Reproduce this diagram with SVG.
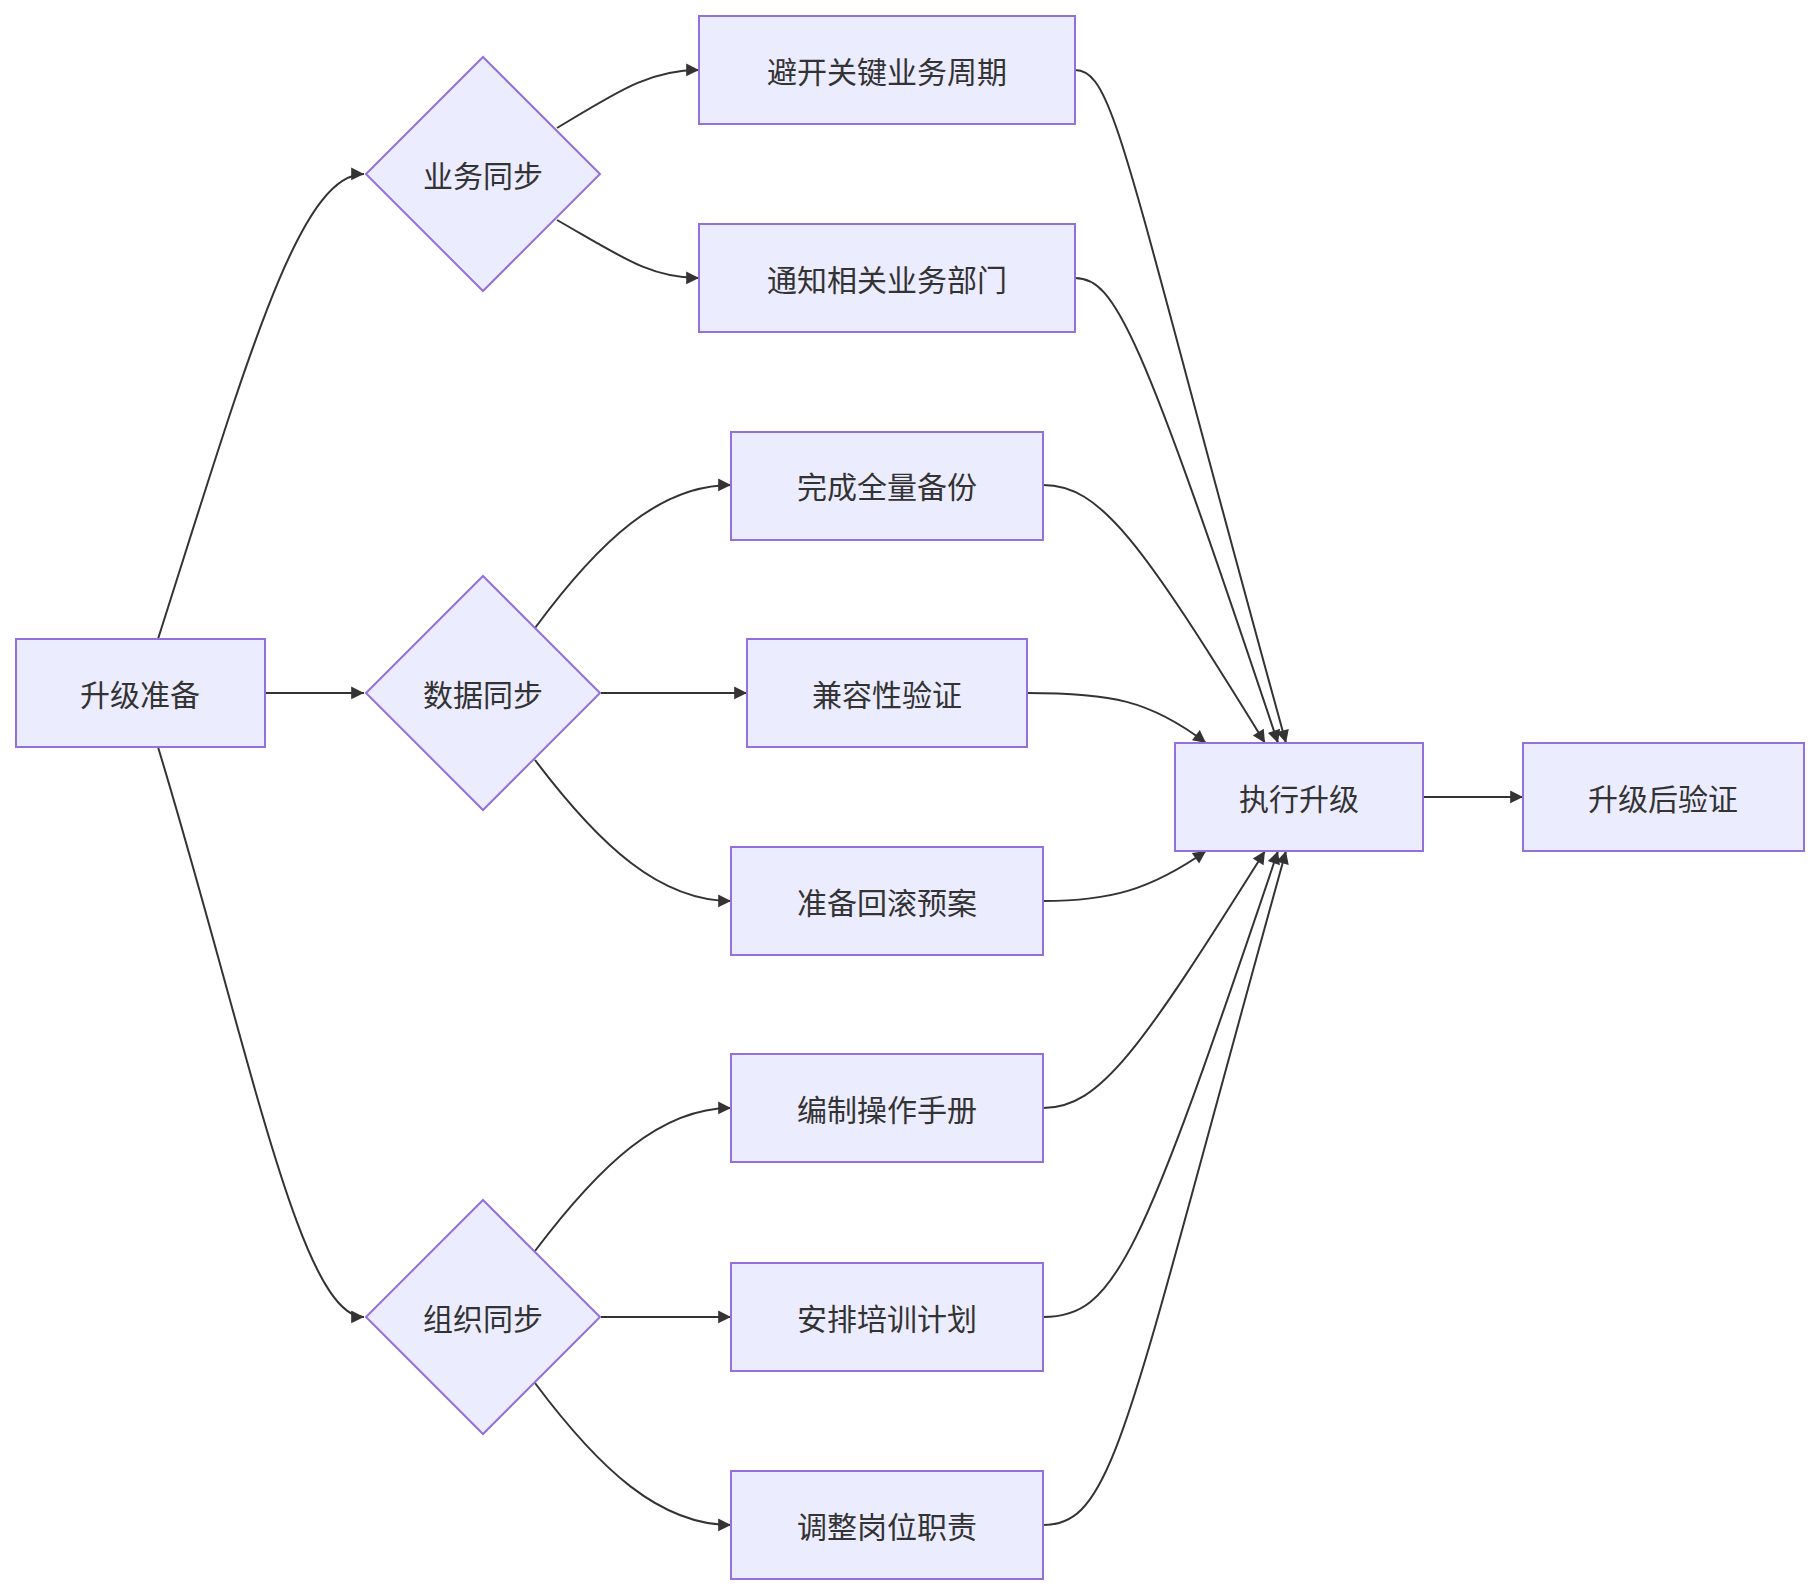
<svg xmlns="http://www.w3.org/2000/svg" width="1820" height="1596" viewBox="0 0 1820 1596">
<style>
.n{fill:#ECECFF;stroke:#9370DB;stroke-width:2}
.t{font-family:"Noto Sans CJK SC","Liberation Sans",sans-serif;font-size:30px;fill:#333;text-anchor:middle;dominant-baseline:central}
.e{fill:none;stroke:#333;stroke-width:2;marker-end:url(#a)}
</style>
<defs><marker id="a" viewBox="0 0 10 10" refX="10" refY="5" markerWidth="8" markerHeight="8" markerUnits="userSpaceOnUse" orient="auto" overflow="visible"><path d="M0,0 L10,5 L0,10 z" fill="#333" transform="scale(1.6) translate(-3.75,-1.9)"/></marker></defs>
<rect width="1820" height="1596" fill="#fff"/>
<g id="edges">
<path class="e" d="M158,639 C250,350 300,174 364,174"/>
<path class="e" d="M265,693 L364,693"/>
<path class="e" d="M158,747 C250,1050 300,1317 364,1317"/>
<path class="e" d="M557,128 C620,90 650,70 699,70"/>
<path class="e" d="M557,220 C620,256 650,278 699,278"/>
<path class="e" d="M535,628 C600,540 660,485 731,485"/>
<path class="e" d="M601,693 L747,693"/>
<path class="e" d="M535,760 C600,846 660,901 731,901"/>
<path class="e" d="M535,1251 C600,1165 660,1108 731,1108"/>
<path class="e" d="M601,1317 L731,1317"/>
<path class="e" d="M535,1383 C600,1470 660,1525 731,1525"/>
<path class="e" d="M1075,70 C1115,70 1125,160 1286,743"/>
<path class="e" d="M1075,278 C1115,278 1140,330 1278,743"/>
<path class="e" d="M1043,485 C1100,485 1140,540 1265,743"/>
<path class="e" d="M1027,693 C1110,693 1150,700 1206,743"/>
<path class="e" d="M1043,901 C1110,901 1150,890 1206,851"/>
<path class="e" d="M1043,1108 C1100,1108 1140,1050 1265,851"/>
<path class="e" d="M1043,1317 C1115,1317 1140,1260 1278,851"/>
<path class="e" d="M1043,1525 C1115,1525 1125,1430 1286,851"/>
<path class="e" d="M1423,797 L1523,797"/>
</g>
<g id="prep"><rect class="n" x="16" y="639" width="249" height="108"/><text class="t" x="140" y="693">升级准备</text></g>
<g id="biz"><polygon class="n" points="483,57 600,174 483,291 366,174"/><text class="t" x="483" y="174">业务同步</text></g>
<g id="data"><polygon class="n" points="483,576 600,693 483,810 366,693"/><text class="t" x="483" y="693">数据同步</text></g>
<g id="org"><polygon class="n" points="483,1200 600,1317 483,1434 366,1317"/><text class="t" x="483" y="1317">组织同步</text></g>
<g id="b1"><rect class="n" x="699" y="16" width="376" height="108"/><text class="t" x="887" y="70">避开关键业务周期</text></g>
<g id="b2"><rect class="n" x="699" y="224" width="376" height="108"/><text class="t" x="887" y="278">通知相关业务部门</text></g>
<g id="d1"><rect class="n" x="731" y="432" width="312" height="108"/><text class="t" x="887" y="485">完成全量备份</text></g>
<g id="d2"><rect class="n" x="747" y="639" width="280" height="108"/><text class="t" x="887" y="693">兼容性验证</text></g>
<g id="d3"><rect class="n" x="731" y="847" width="312" height="108"/><text class="t" x="887" y="901">准备回滚预案</text></g>
<g id="o1"><rect class="n" x="731" y="1054" width="312" height="108"/><text class="t" x="887" y="1108">编制操作手册</text></g>
<g id="o2"><rect class="n" x="731" y="1263" width="312" height="108"/><text class="t" x="887" y="1317">安排培训计划</text></g>
<g id="o3"><rect class="n" x="731" y="1471" width="312" height="108"/><text class="t" x="887" y="1525">调整岗位职责</text></g>
<g id="exec"><rect class="n" x="1175" y="743" width="248" height="108"/><text class="t" x="1299" y="797">执行升级</text></g>
<g id="post"><rect class="n" x="1523" y="743" width="281" height="108"/><text class="t" x="1663" y="797">升级后验证</text></g>
</svg>
